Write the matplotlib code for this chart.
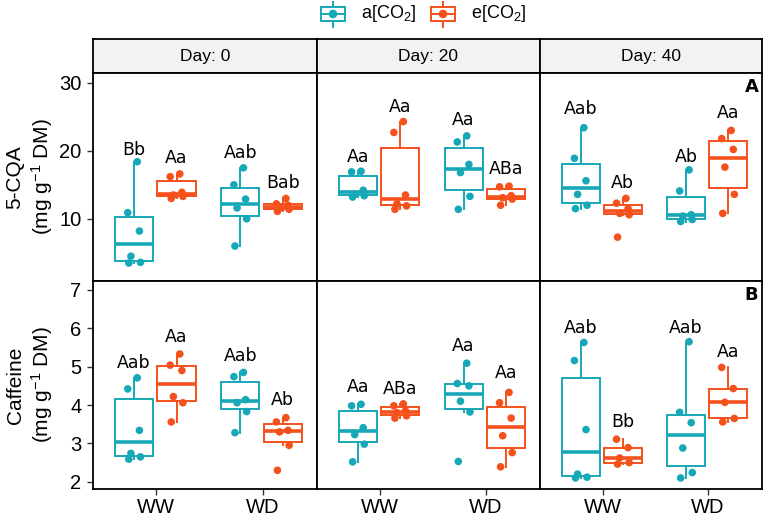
import matplotlib
matplotlib.use('Agg')
import matplotlib.pyplot as plt
from matplotlib.patches import Rectangle, Circle
import numpy as np

plt.rcParams['font.family'] = ['Liberation Sans', 'DejaVu Sans']
plt.rcParams['mathtext.fontset'] = 'custom'
plt.rcParams['mathtext.rm'] = 'Liberation Sans'
plt.rcParams['mathtext.it'] = 'Liberation Sans:italic'

TEAL = '#17A8B7'
ORANGE = '#F4511C'
COLORS = [TEAL, ORANGE, TEAL, ORANGE]

days = ['Day: 0', 'Day: 20', 'Day: 40']
water = ['WW', 'WD']
co2_labels = ['a[CO$_2$]', 'e[CO$_2$]']

# 5-CQA (mg g-1 DM); groups: a-WW, e-WW, a-WD, e-WD
cqa_d0 = [[3.5, 3.6, 4.5, 8.2, 10.9, 18.4],
          [13.0, 13.3, 13.5, 13.9, 16.2, 16.6],
          [6.0, 10.0, 11.6, 12.9, 15.0, 17.5],
          [11.1, 11.4, 11.6, 12.0, 12.2, 13.0]]
cqa_d20 = [[13.2, 13.4, 13.6, 14.2, 16.9, 17.0],
           [11.4, 11.9, 12.2, 13.5, 22.7, 24.3],
           [11.4, 13.3, 16.8, 18.0, 21.3, 22.2],
           [12.0, 12.9, 13.1, 13.4, 14.7, 14.8]]
cqa_d40 = [[11.5, 12.0, 13.6, 15.6, 18.9, 23.4],
           [7.3, 10.6, 10.8, 11.5, 12.3, 13.0],
           [9.6, 9.9, 10.4, 10.6, 14.1, 17.2],
           [10.8, 13.6, 17.6, 20.2, 21.8, 23.0]]

# Caffeine (mg g-1 DM)
caf_d0 = [[2.59, 2.65, 2.74, 3.34, 4.42, 4.71],
          [3.56, 4.06, 4.22, 4.90, 5.04, 5.33],
          [3.28, 3.83, 4.06, 4.14, 4.74, 4.85],
          [2.30, 2.95, 3.30, 3.34, 3.56, 3.67]]
caf_d20 = [[2.52, 2.98, 3.23, 3.41, 3.98, 4.02],
           [3.66, 3.72, 3.80, 3.85, 3.98, 4.03],
           [2.53, 3.82, 4.10, 4.50, 4.56, 5.09],
           [2.39, 2.76, 3.20, 3.66, 4.06, 4.33]]
caf_d40 = [[2.10, 2.12, 2.20, 3.36, 5.16, 5.63],
           [2.46, 2.50, 2.62, 2.89, 3.11],
           [2.10, 2.24, 2.88, 3.54, 3.81, 5.65],
           [3.56, 3.65, 4.07, 4.43, 4.98]]

cqa_letters = [['Bb', 'Aa', 'Aab', 'Bab'],
               ['Aa', 'Aa', 'Aa', 'ABa'],
               ['Aab', 'Ab', 'Ab', 'Aa']]
cqa_letter_y = [[20.1, 18.9, 19.7, 15.2],
                [19.1, 26.5, 24.6, 17.3],
                [26.1, 15.2, 19.1, 25.5]]
caf_letters = [['Aab', 'Aa', 'Aab', 'Ab'],
               ['Aa', 'ABa', 'Aa', 'Aa'],
               ['Aab', 'Bb', 'Aab', 'Aa']]
caf_letter_y = [[5.09, 5.76, 5.28, 4.13],
                [4.48, 4.42, 5.54, 4.83],
                [6.02, 3.55, 6.02, 5.38]]

cqa_data = [cqa_d0, cqa_d20, cqa_d40]
caf_data = [caf_d0, caf_d20, caf_d40]

W, H = 765, 518
fig = plt.figure(figsize=(W / 100, H / 100), dpi=100)


def px_axes(x0, y0, x1, y1):
    return fig.add_axes([x0 / W, 1 - y1 / H, (x1 - x0) / W, (y1 - y0) / H])


col_x = [92.7, 316.7, 539.7, 761.7]
rows = [(73.3, 280.7), (280.7, 488.7)]
offsets = [-0.21, 0.19, -0.21, 0.19]
base = [1, 1, 2, 2]
JIT = [-0.05, 0.06, -0.03, 0.05, -0.06, 0.03]


def draw_panel(ax, groups, letters, letter_y):
    for gi, vals in enumerate(groups):
        c = COLORS[gi]
        pos = base[gi] + offsets[gi]
        ax.boxplot(vals, positions=[pos], widths=0.36, showfliers=False,
                   showcaps=False, patch_artist=True, manage_ticks=False,
                   boxprops=dict(facecolor='white', edgecolor=c, linewidth=1.4),
                   whiskerprops=dict(color=c, linewidth=1.4),
                   medianprops=dict(color=c, linewidth=2.6))
        v = np.sort(vals)
        jx = pos + np.array(JIT[:len(v)])
        ax.scatter(jx, v, s=30, color=c, edgecolors='none', zorder=3)
        ax.text(pos, letter_y[gi], letters[gi], ha='center', va='center',
                fontsize=12.5, family='DejaVu Sans', color='black')


for ci in range(3):
    x0, x1 = col_x[ci], col_x[ci + 1]
    # strip
    sax = px_axes(x0, 39.3, x1, 73.3)
    sax.set_facecolor('#F2F2F2')
    sax.set_xticks([])
    sax.set_yticks([])
    for s in sax.spines.values():
        s.set_linewidth(1.3)
    sax.text(0.5, 0.5, days[ci], ha='center', va='center', fontsize=12.5,
             transform=sax.transAxes)

    for ri, (y0, y1) in enumerate(rows):
        ax = px_axes(x0, y0, x1, y1)
        if ri == 0:
            draw_panel(ax, cqa_data[ci], cqa_letters[ci], cqa_letter_y[ci])
            ax.set_ylim(0.9, 31.4)
            ax.set_yticks([10, 20, 30])
        else:
            draw_panel(ax, caf_data[ci], caf_letters[ci], caf_letter_y[ci])
            ax.set_ylim(1.82, 7.24)
            ax.set_yticks([2, 3, 4, 5, 6, 7])
        ax.set_xlim(0.4, 2.51)
        ax.set_xticks([1, 2])
        for s in ax.spines.values():
            s.set_linewidth(1.3)
        ax.tick_params(direction='out', length=4.5, width=1, colors='#333333',
                       labelsize=14.5, labelcolor='black')
        if ri == 0:
            ax.tick_params(bottom=False, labelbottom=False)
        else:
            ax.set_xticklabels(water)
            ax.tick_params(axis='x', pad=2.5)
        if ci > 0:
            ax.tick_params(left=False, labelleft=False)
        if ci == 2:
            ax.text(0.985, 0.975, 'A' if ri == 0 else 'B', transform=ax.transAxes,
                    ha='right', va='top', fontsize=13, fontweight='bold',
                    family='DejaVu Sans')

# y axis titles
for yc, name in [(177, '5-CQA'), (385, 'Caffeine')]:
    fig.text(15 / W, 1 - yc / H, name, rotation=90, ha='center', va='center', fontsize=15)
    fig.text(42 / W, 1 - yc / H, '(mg g$^{-1}$ DM)', rotation=90, ha='center', va='center', fontsize=15)

# legend
lax = fig.add_axes([0, 1 - 32 / H, 1, 32 / H])
lax.set_xlim(0, W)
lax.set_ylim(32, 0)
lax.axis('off')
for cx, c, lab in [(333, TEAL, co2_labels[0]), (443, ORANGE, co2_labels[1])]:
    lax.plot([cx, cx], [2, 27], color=c, lw=1.4)
    lax.add_patch(Rectangle((cx - 12, 7), 24, 14, facecolor='white', edgecolor=c, lw=1.4, zorder=2))
    lax.plot([cx - 12, cx + 12], [14, 14], color=c, lw=1.4, zorder=3)
    lax.add_patch(Circle((cx, 14), 3.6, color=c, zorder=4))
    lax.text(cx + 28, 14, lab, ha='left', va='center', fontsize=13)

fig.savefig('out.png', dpi=100)
